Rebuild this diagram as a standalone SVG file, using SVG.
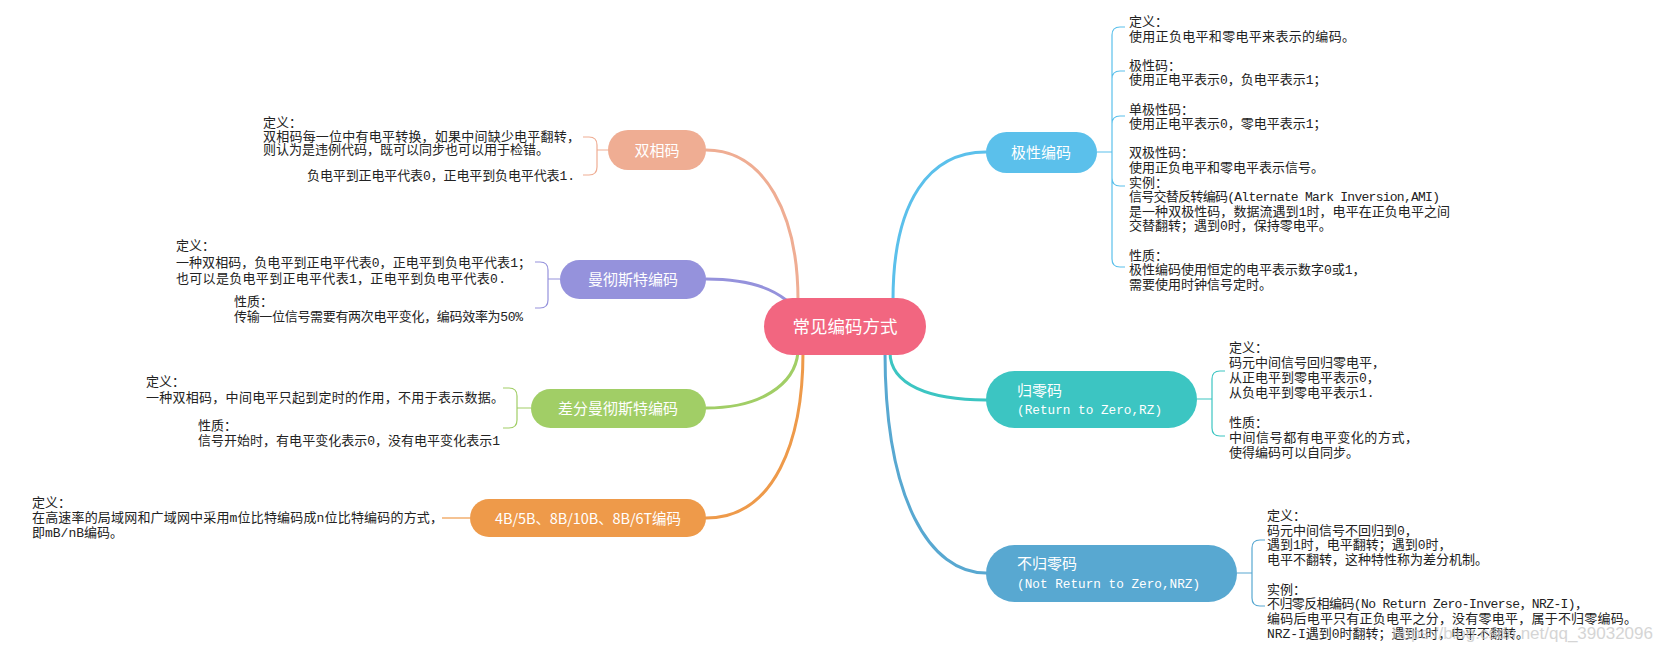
<svg xmlns="http://www.w3.org/2000/svg" width="1664" height="652" viewBox="0 0 1664 652">
<style>
.bg{fill:#ffffff}
.conn{fill:none;stroke-width:3;stroke-linecap:round}
.br{fill:none;stroke-width:1.2}
.title{font-family:"Noto Sans CJK SC","Liberation Sans",sans-serif;fill:#ffffff}
.t15{font-size:15px}
.sub{font-family:"Liberation Mono","Noto Sans CJK SC",monospace;font-size:12.7px;fill:#ffffff}
.d{font-family:"Liberation Mono","Noto Sans CJK SC",monospace;font-size:13px;fill:#222222}
.wm{font-family:"Liberation Sans",sans-serif;font-size:17px;fill:#c8c8c8;opacity:0.75}
</style>
<rect class="bg" x="0" y="0" width="1664" height="652"/>

<g id="connectors">
  <path class="conn" stroke="#EFAD93" d="M706,150 C765,150 798,215 798,300"/>
  <path class="conn" stroke="#9592DC" d="M706,279 C745,279 770,287 786,300"/>
  <path class="conn" stroke="#A1CE66" d="M706,408 C760,408 795,385 798,352"/>
  <path class="conn" stroke="#EE9A4A" d="M706,518 C775,518 803,440 803,352"/>
  <path class="conn" stroke="#5BC0EB" d="M893,300 C893,200 930,152 986,152"/>
  <path class="conn" stroke="#3CC5C2" d="M890,352 C890,385 930,400 986,400"/>
  <path class="conn" stroke="#58A8D1" d="M885,352 C885,500 930,573 986,573"/>

  <path class="br" stroke="#5BC0EB" d="M1097,152 H1112 M1112,152 V35 Q1112,27 1120,27 H1125 M1112,79 Q1112,71 1120,71 H1125 M1112,124 Q1112,116 1120,116 H1125 M1112,152 V259 Q1112,267 1120,267 H1125 M1112,178 Q1112,186 1120,186 H1125"/>
  <path class="br" stroke="#3CC5C2" d="M1197,399 H1212 M1212,399 V379 Q1212,371 1220,371 H1225 M1212,399 V428 Q1212,436 1220,436 H1225"/>
  <path class="br" stroke="#58A8D1" d="M1237,573 H1252 M1252,573 V548 Q1252,540 1260,540 H1265 M1252,573 V598 Q1252,606 1260,606 H1265"/>
  <path class="br" stroke="#EFAD93" d="M608,150 H597 M597,150 V145 Q597,137 589,137 H583 M597,150 V167 Q597,175 589,175 H583"/>
  <path class="br" stroke="#9592DC" d="M560,279 H548 M548,279 V270 Q548,262 540,262 H535 M548,279 V300 Q548,308 540,308 H535"/>
  <path class="br" stroke="#A1CE66" d="M531,408 H517 M517,408 V396 Q517,388 509,388 H503 M517,408 V420 Q517,428 509,428 H503"/>
  <path class="br" stroke="#EE9A4A" d="M470,518 H442"/>
</g>

<g id="center">
  <rect x="764" y="298" width="162" height="57" rx="28.5" fill="#F26680"/>
  <text class="title" x="845" y="333" font-size="17.5" text-anchor="middle">常见编码方式</text>
</g>

<g id="node-jixing">
  <rect x="986" y="132" width="111" height="41" rx="20.5" fill="#5BC0EB"/>
  <text class="title t15" x="1041" y="157.5" text-anchor="middle">极性编码</text>
  <text class="d" x="1129" y="26">定义：</text>
  <text class="d" x="1129" y="40.6" textLength="226">使用正负电平和零电平来表示的编码。</text>
  <text class="d" x="1129" y="69.8">极性码：</text>
  <text class="d" x="1129" y="84.4">使用正电平表示0，负电平表示1；</text>
  <text class="d" x="1129" y="113.6">单极性码：</text>
  <text class="d" x="1129" y="128.2">使用正电平表示0，零电平表示1；</text>
  <text class="d" x="1129" y="157.4">双极性码：</text>
  <text class="d" x="1129" y="172">使用正负电平和零电平表示信号。</text>
  <text class="d" x="1129" y="186.6">实例：</text>
  <text class="d" x="1129" y="201.2" textLength="311">信号交替反转编码(Alternate Mark Inversion,AMI)</text>
  <text class="d" x="1129" y="215.8" textLength="321">是一种双极性码，数据流遇到1时，电平在正负电平之间</text>
  <text class="d" x="1129" y="230.4">交替翻转；遇到0时，保持零电平。</text>
  <text class="d" x="1129" y="259.6">性质：</text>
  <text class="d" x="1129" y="274.2">极性编码使用恒定的电平表示数字0或1，</text>
  <text class="d" x="1129" y="288.8">需要使用时钟信号定时。</text>
</g>

<g id="node-rz">
  <rect x="986" y="371" width="211" height="57" rx="28.5" fill="#3CC5C2"/>
  <text class="title t15" x="1017" y="395.5">归零码</text>
  <text class="sub" x="1017" y="413.5" textLength="145">(Return to Zero,RZ)</text>
  <text class="d" x="1229" y="352">定义：</text>
  <text class="d" x="1229" y="367">码元中间信号回归零电平，</text>
  <text class="d" x="1229" y="382">从正电平到零电平表示0，</text>
  <text class="d" x="1229" y="397">从负电平到零电平表示1.</text>
  <text class="d" x="1229" y="427">性质：</text>
  <text class="d" x="1229" y="442" textLength="189">中间信号都有电平变化的方式，</text>
  <text class="d" x="1229" y="457">使得编码可以自同步。</text>
</g>

<g id="node-nrz">
  <rect x="986" y="545" width="251" height="57" rx="28.5" fill="#58A8D1"/>
  <text class="title t15" x="1017" y="568.5">不归零码</text>
  <text class="sub" x="1017" y="587.5" textLength="183">(Not Return to Zero,NRZ)</text>
  <text class="d" x="1267" y="520">定义：</text>
  <text class="d" x="1267" y="534.7">码元中间信号不回归到0，</text>
  <text class="d" x="1267" y="549.4">遇到1时，电平翻转；遇到0时，</text>
  <text class="d" x="1267" y="564.1">电平不翻转，这种特性称为差分机制。</text>
  <text class="d" x="1267" y="593.5">实例：</text>
  <text class="d" x="1267" y="608.2" textLength="321">不归零反相编码(No Return Zero-Inverse，NRZ-I)，</text>
  <text class="d" x="1267" y="622.9" textLength="370">编码后电平只有正负电平之分，没有零电平，属于不归零编码。</text>
  <text class="d" x="1267" y="637.6" textLength="262">NRZ-I遇到0时翻转；遇到1时，电平不翻转。</text>
</g>

<g id="node-shuangxiang">
  <rect x="608" y="130" width="98" height="40" rx="20" fill="#EFAD93"/>
  <text class="title t15" x="657" y="155.5" text-anchor="middle">双相码</text>
  <text class="d" x="263" y="127">定义：</text>
  <text class="d" x="263" y="140.5" textLength="317">双相码每一位中有电平转换，如果中间缺少电平翻转，</text>
  <text class="d" x="263" y="154">则认为是违例代码，既可以同步也可以用于检错。</text>
  <text class="d" x="575" y="180" text-anchor="end" textLength="268">负电平到正电平代表0，正电平到负电平代表1.</text>
</g>

<g id="node-manchester">
  <rect x="560" y="260" width="146" height="39" rx="19.5" fill="#9592DC"/>
  <text class="title t15" x="633" y="284.5" text-anchor="middle">曼彻斯特编码</text>
  <text class="d" x="176" y="250">定义：</text>
  <text class="d" x="176" y="267" textLength="355">一种双相码，负电平到正电平代表0，正电平到负电平代表1；</text>
  <text class="d" x="176" y="283" textLength="330">也可以是负电平到正电平代表1，正电平到负电平代表0.</text>
  <text class="d" x="234" y="306">性质：</text>
  <text class="d" x="234" y="321" textLength="289">传输一位信号需要有两次电平变化，编码效率为50%</text>
</g>

<g id="node-diff-manchester">
  <rect x="531" y="389" width="175" height="39" rx="19.5" fill="#A1CE66"/>
  <text class="title t15" x="618" y="413.5" text-anchor="middle">差分曼彻斯特编码</text>
  <text class="d" x="146" y="386">定义：</text>
  <text class="d" x="146" y="402" textLength="358">一种双相码，中间电平只起到定时的作用，不用于表示数据。</text>
  <text class="d" x="198" y="430">性质：</text>
  <text class="d" x="198" y="445" textLength="302">信号开始时，有电平变化表示0，没有电平变化表示1</text>
</g>

<g id="node-mbnb">
  <rect x="470" y="499" width="236" height="38" rx="19" fill="#EE9A4A"/>
  <text class="title" x="588" y="523.5" font-size="14.5" text-anchor="middle" textLength="186">4B/5B、8B/10B、8B/6T编码</text>
  <text class="d" x="32" y="507">定义：</text>
  <text class="d" x="32" y="522" textLength="411">在高速率的局域网和广域网中采用m位比特编码成n位比特编码的方式，</text>
  <text class="d" x="32" y="537">即mB/nB编码。</text>
</g>

<text class="wm" x="1653" y="639" text-anchor="end">https://blog.csdn.net/qq_39032096</text>
</svg>
